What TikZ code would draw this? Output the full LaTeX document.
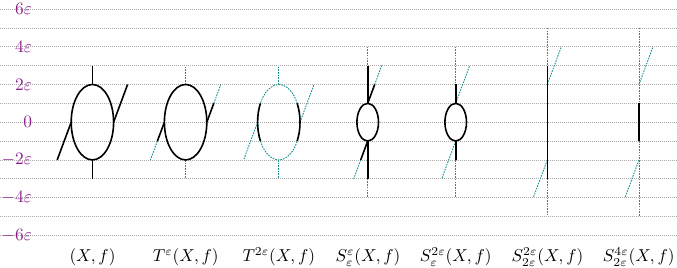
\documentclass[tikz,border=0pt]{standalone}
\begin{document}
\begin{tikzpicture}[x=1pt,y=18.86pt,
  gridline/.style={draw={rgb,255:red,170;green,170;blue,170},line width=0.6pt,dash pattern=on 1pt off 1pt},
  solidline/.style={draw=black,line width=1.6pt},
  ghost/.style={draw={rgb,255:red,20;green,145;blue,145},line width=0.9pt,dash pattern=on 1.6pt off 1.1pt},
  axislabel/.style={anchor=east,text={rgb,255:red,140;green,30;blue,140},inner sep=0pt,scale=1.74},
  figlabel/.style={anchor=base,inner sep=0pt,scale=1.72}]
\useasboundingbox (0,-7.7296) rectangle (677,6.4793);
% grid and axis labels
\foreach \k in {-6,...,6} \draw[gridline] (0,\k) -- (677,\k);
\node[axislabel] (l6) at (32.3,6) {$6\varepsilon$};
\node[axislabel] (l4) at (32.3,4) {$4\varepsilon$};
\node[axislabel] (l2) at (32.3,2) {$2\varepsilon$};
\node[axislabel] (l0) at (32.3,0) {$0$};
\node[axislabel] (lm2) at (32.3,-2) {$-2\varepsilon$};
\node[axislabel] (lm4) at (32.3,-4) {$-4\varepsilon$};
\node[axislabel] (lm6) at (32.3,-6) {$-6\varepsilon$};
% 1: (X,f)
\begin{scope}[shift={(92.4,0)}]
\draw[solidline] (0,0) ellipse [x radius=21.2pt, y radius=37.72pt];
\draw[solidline] (0,2) -- (0,3);
\draw[solidline] (0,-2) -- (0,-3);
\draw[solidline] (-21.2,0) -- (-35.2,-2);
\draw[solidline] (21.2,0) -- (35.2,2);
\end{scope}
% 2: T^eps
\begin{scope}[shift={(185.6,0)}]
\draw[ghost] (0,2) -- (0,3);
\draw[ghost] (0,-2) -- (0,-3);
\draw[ghost] (-28.2,-1) -- (-35.2,-2);
\draw[ghost] (28.2,1) -- (35.2,2);
\draw[solidline] (0,0) ellipse [x radius=21.2pt, y radius=37.72pt];
\draw[solidline] (-21.2,0) -- (-28.2,-1);
\draw[solidline] (21.2,0) -- (28.2,1);
\end{scope}
% 3: T^{2eps}
\begin{scope}[shift={(278.8,0)}]
\draw[ghost] (0,0) ellipse [x radius=21.2pt, y radius=37.72pt];
\draw[ghost] (0,2) -- (0,3);
\draw[ghost] (0,-2) -- (0,-3);
\draw[ghost] (-21.2,0) -- (-35.2,-2);
\draw[ghost] (21.2,0) -- (35.2,2);
\draw[solidline] (-18.36,1) arc [start angle=150, end angle=210, x radius=21.2pt, y radius=37.72pt];
\draw[solidline] (18.36,-1) arc [start angle=-30, end angle=30, x radius=21.2pt, y radius=37.72pt];
\end{scope}
% 4: S^eps_eps
\begin{scope}[shift={(367.7,0)}]
\draw[ghost] (0,4) -- (0,3);
\draw[ghost] (0,-3) -- (0,-4);
\draw[ghost] (7,2) -- (14,3);
\draw[ghost] (-7,-2) -- (-14,-3);
\draw[solidline] (0,0) ellipse [x radius=10.8pt, y radius=18.86pt];
\draw[solidline] (0,3) -- (0,1);
\draw[solidline] (0,-1) -- (0,-3);
\draw[solidline] (0,1) -- (7,2);
\draw[solidline] (0,-1) -- (-7,-2);
\end{scope}
% 5: S^{2eps}_eps
\begin{scope}[shift={(455.7,0)}]
\draw[ghost] (0,4) -- (0,2);
\draw[ghost] (0,-2) -- (0,-4);
\draw[ghost] (0,1) -- (14,3);
\draw[ghost] (0,-1) -- (-14,-3);
\draw[solidline] (0,0) ellipse [x radius=10.8pt, y radius=18.86pt];
\draw[solidline] (0,2) -- (0,1);
\draw[solidline] (0,-1) -- (0,-2);
\end{scope}
% 6: S^{2eps}_{2eps}
\begin{scope}[shift={(547.3,0)}]
\draw[ghost] (0,5) -- (0,3);
\draw[ghost] (0,-3) -- (0,-5);
\draw[ghost] (0,2) -- (14,4);
\draw[ghost] (0,-2) -- (-14,-4);
\draw[solidline] (0,3) -- (0,-3);
\end{scope}
% 7: S^{4eps}_{2eps}
\begin{scope}[shift={(639,0)}]
\draw[ghost] (0,5) -- (0,1);
\draw[ghost] (0,-1) -- (0,-5);
\draw[ghost] (0,2) -- (14,4);
\draw[ghost] (0,-2) -- (-14,-4);
\draw[solidline] (0,1) -- (0,-1);
\end{scope}
% labels
\node[figlabel] (f1) at (92.5,-7.40) {$(X,f)$};
\node[figlabel] (f2) at (185.8,-7.40) {$T^{\varepsilon}(X,f)$};
\node[figlabel] (f3) at (278.8,-7.40) {$T^{2\varepsilon}(X,f)$};
\node[figlabel] (f4) at (368,-7.40) {$S^{\varepsilon}_{\varepsilon}(X,f)$};
\node[figlabel] (f5) at (455.7,-7.40) {$S^{2\varepsilon}_{\varepsilon}(X,f)$};
\node[figlabel] (f6) at (547.5,-7.40) {$S^{2\varepsilon}_{2\varepsilon}(X,f)$};
\node[figlabel] (f7) at (638.7,-7.40) {$S^{4\varepsilon}_{2\varepsilon}(X,f)$};
\end{tikzpicture}
\end{document}
